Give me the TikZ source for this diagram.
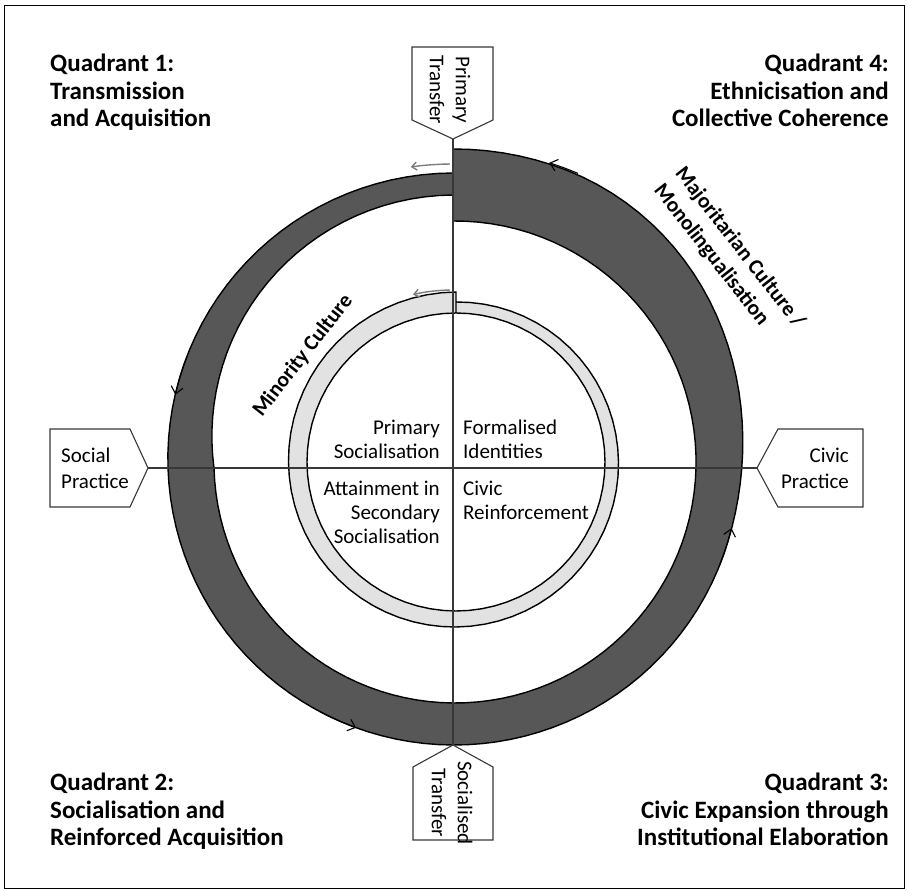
\documentclass[tikz,border=0pt]{standalone}
\usepackage{fontspec}
\setmainfont{Carlito}
\usetikzlibrary{arrows.meta}

\definecolor{bandgrey}{HTML}{575757}
\definecolor{ringgrey}{HTML}{E2E2E2}
\definecolor{linegrey}{HTML}{383838}
\definecolor{driftgrey}{HTML}{7C7C7C}

\tikzset{
  declare function={
    flare(\t)=ifthenelse(\t<345,0,ifthenelse(\t<430,12*(1-cos(2.1176*(\t-345))),24));
    taper(\t)=ifthenelse(\t<180,26*cos(\t-90),0);
  },
  quadtitle/.style={font=\fontsize{25}{27.5}\selectfont\bfseries, inner sep=0pt},
  celltext/.style={font=\fontsize{21}{24}\selectfont, inner sep=0pt},
  boxtext/.style={font=\fontsize{21}{26}\selectfont, inner sep=0pt},
  culturetext/.style={font=\fontsize{21.5}{27}\selectfont\bfseries, inner sep=0pt},
  labelbox/.style={draw=linegrey, line width=1.1pt, fill=white},
  band/.style={draw=black, line width=1.4pt},
  axis/.style={draw=linegrey, line width=2.4pt},
  flow/.style={draw=black, line width=1.1pt, -{Straight Barb[length=7pt, width=12pt]}},
  drift/.style={draw=driftgrey, line width=1.4pt, -{Straight Barb[length=5pt, width=8pt]}},
}

\begin{document}
\begin{tikzpicture}[x=1pt, y=1pt]
  \useasboundingbox (-453,-423) rectangle (455,468);
  \draw[line width=1pt] (-448,-420) rectangle (451,462);

  % outer band: majoritarian culture, thin at the start, swelling at the end
  \path[band, fill=bandgrey]
    plot[domain=90:450, samples=121, variable=\t] (\t:{286+9*sin(\t)+cos(\t)+flare(\t)})
    -- plot[domain=450:90, samples=121, variable=\t] (\t:{241+6*sin(\t)+2*cos(\t)+taper(\t)})
    -- cycle;
  \begin{scope}[shift={(1,9)}]
    \draw[flow] (159:286) arc[start angle=159, end angle=167, radius=286];
    \draw[flow] (242:286) arc[start angle=242, end angle=250, radius=286];
    \draw[flow] (338:286) arc[start angle=338, end angle=346, radius=286];
  \end{scope}
  \draw[flow] (67:320) arc[start angle=67, end angle=72.5, radius=320];
  \draw[drift] (90.6:304) arc[start angle=90.6, end angle=98, radius=304];

  % inner ring: minority culture, narrowing
  \begin{scope}[shift={(3,6)}]
    \path[band, fill=ringgrey]
      plot[domain=90:450, samples=73, variable=\t] (\t:{170-10*(\t-90)/360})
      -- plot[domain=450:90, samples=73, variable=\t] (\t:149)
      -- cycle;
  \end{scope}
  \draw[drift] (91:178) arc[start angle=91, end angle=103, radius=178];

  % axes between the four practices
  \coordinate (ptop) at (0,329);
  \coordinate (pbot) at (0,-277);
  \coordinate (pleft) at (-305,0);
  \coordinate (pright) at (304,0);
  \draw[axis] (ptop) -- (pbot);
  \draw[axis] (pleft) -- (pright);

  % pointed label boxes
  \draw[labelbox] (ptop) -- ++(-41,19) -- ++(0,73) -- ++(81,0) -- ++(0,-73) -- cycle;
  \draw[labelbox] (pbot) -- ++(-40,-22) -- ++(0,-73) -- ++(80,0) -- ++(0,73) -- cycle;
  \draw[labelbox] (pleft) -- ++(-18,39) -- ++(-80,0) -- ++(0,-78) -- ++(80,0) -- cycle;
  \draw[labelbox] (pright) -- ++(21,39) -- ++(85,0) -- ++(0,-78) -- ++(-85,0) -- cycle;

  \node[boxtext, rotate=-90, align=center] (primtrans) at (-3,378) {Primary\\Transfer};
  \node[boxtext, rotate=-90, align=center] (soctrans) at (-1,-335) {Socialised\\Transfer};
  \node[boxtext, align=left, anchor=west] (socprac) at (-392,0) {Social\\Practice};
  \node[boxtext, align=right, anchor=east] (civprac) at (396,0) {Civic\\Practice};

  % cells of the inner circle
  \node[celltext, align=right, anchor=east] (primsoc) at (-13,29) {Primary\\Socialisation};
  \node[celltext, align=left, anchor=west] (formid) at (10,29) {Formalised\\Identities};
  \node[celltext, align=right, anchor=east] (attain) at (-13,-44.5) {Attainment in\\Secondary\\Socialisation};
  \node[celltext, align=left, anchor=west] (civreinf) at (10,-32.5) {Civic\\Reinforcement};

  % band names
  \node[culturetext, rotate=52] (minority) at (-150,112) {Minority Culture};
  \node[culturetext, rotate=-52, align=left] (majority) at (276,212) {Majoritarian Culture /\\Monolingualisation};

  % quadrant titles
  \node[quadtitle, align=left, anchor=north west] (quad1) at (-403,414) {Quadrant 1:\\Transmission\\and Acquisition};
  \node[quadtitle, align=right, anchor=north east] (quad4) at (436,414) {Quadrant 4:\\Ethnicisation and\\Collective Coherence};
  \node[quadtitle, align=left, anchor=north west] (quad2) at (-403,-305) {Quadrant 2:\\Socialisation and\\Reinforced Acquisition};
  \node[quadtitle, align=right, anchor=north east] (quad3) at (436,-305) {Quadrant 3:\\Civic Expansion through\\Institutional Elaboration};
\end{tikzpicture}
\end{document}
